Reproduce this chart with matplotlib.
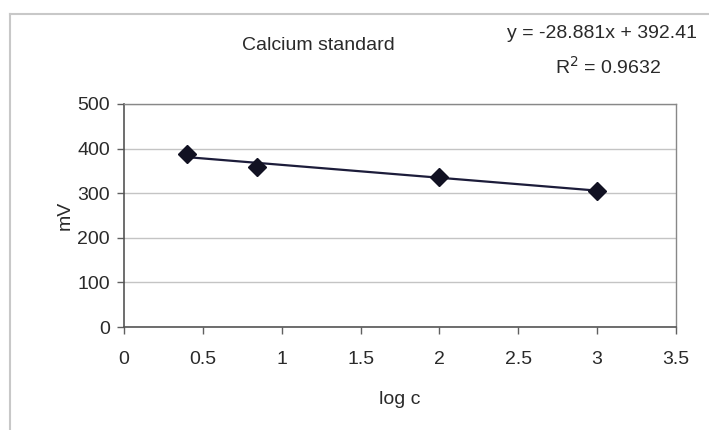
import matplotlib.pyplot as plt
import numpy as np
from matplotlib.lines import Line2D

# Calcium electrode calibration: electrode potential against log concentration
log_c = [0.398, 0.845, 2.0, 3.0]
mv = [389, 358, 336, 306]

# Linear trendline coefficients shown on the chart
slope = -28.881
intercept = 392.41
r_squared = 0.9632

x_ticks = [0, 0.5, 1, 1.5, 2, 2.5, 3, 3.5]
y_ticks = [0, 100, 200, 300, 400, 500]

plt.rcParams['font.family'] = ['Liberation Sans', 'DejaVu Sans']
FS = 14
TXT = '#2a2a2a'

W, H = 709, 430
fig = plt.figure(figsize=(W / 100, H / 100), dpi=100)
fig.patch.set_facecolor('white')

# Chart-area frame (top and left edges only fall inside the picture)
fig.add_artist(Line2D([10 / W, 1.0], [1 - 14 / H, 1 - 14 / H],
                      transform=fig.transFigure, color='#c8c8c8', lw=1.5))
fig.add_artist(Line2D([10 / W, 10 / W], [0, 1 - 14 / H],
                      transform=fig.transFigure, color='#c8c8c8', lw=1.5))

left, right, top, bottom = 124, 676, 104, 327
ax = fig.add_axes([left / W, 1 - bottom / H, (right - left) / W, (bottom - top) / H])

ax.set_xlim(0, 3.5)
ax.set_ylim(0, 500)
ax.set_xticks(x_ticks)
ax.set_xticklabels([f'{t:g}' for t in x_ticks])
ax.set_yticks(y_ticks)
ax.tick_params(axis='both', direction='out', length=5, width=1, color='#606060',
               labelsize=FS, labelcolor=TXT)
ax.tick_params(axis='y', pad=5)
ax.tick_params(axis='x', pad=12)

for side in ['left', 'bottom']:
    ax.spines[side].set_color('#555555')
    ax.spines[side].set_linewidth(1.2)
for side in ['top', 'right']:
    ax.spines[side].set_color('#888888')
    ax.spines[side].set_linewidth(1.0)

ax.yaxis.grid(True, color='#c4c4c4', lw=1)
ax.set_axisbelow(True)

# Trendline from the fitted equation
xs = np.array([min(log_c), max(log_c)])
ax.plot(xs, slope * xs + intercept, color='#1c1c3a', lw=1.6, zorder=3)
ax.plot(log_c, mv, linestyle='none', marker='D', markersize=9,
        color='#111122', zorder=4)

ax.set_xlabel('log c', fontsize=FS, color=TXT, labelpad=17)
ax.set_ylabel('mV', fontsize=FS, color=TXT, labelpad=3)

fig.text(318 / W, 1 - 45 / H, 'Calcium standard', ha='center', va='center',
         fontsize=FS, color=TXT)
fig.text(697 / W, 1 - 33 / H, f'y = {slope}x + {intercept}', ha='right', va='center',
         fontsize=FS, color=TXT)
fig.text(608 / W, 1 - 67 / H, f'R$^2$ = {r_squared}', ha='center', va='center',
         fontsize=FS, color=TXT)

fig.savefig('out.png', dpi=100)
